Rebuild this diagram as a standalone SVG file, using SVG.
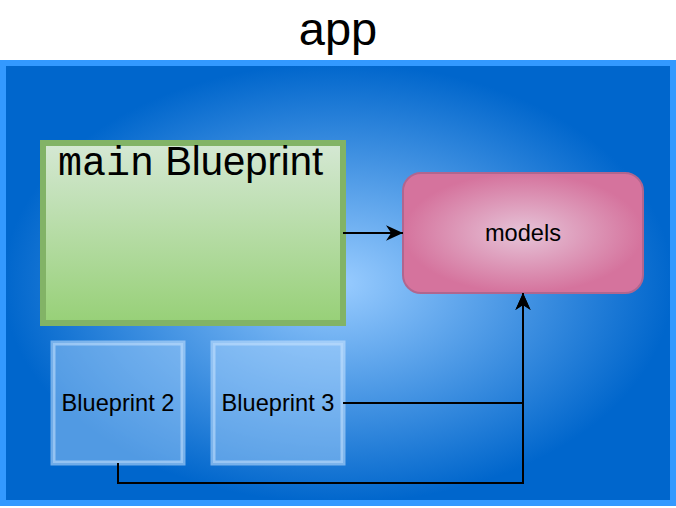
<svg xmlns="http://www.w3.org/2000/svg" width="676" height="508" viewBox="0 0 676 508">
<defs>
<radialGradient id="gApp" cx="0.5" cy="0.5" r="0.5" fx="0.5" fy="0.5">
<stop offset="0" stop-color="#99ccff"/>
<stop offset="1" stop-color="#0066cc"/>
</radialGradient>
<linearGradient id="gMain" x1="0" y1="0" x2="0" y2="1">
<stop offset="0" stop-color="#d5e8d4"/>
<stop offset="1" stop-color="#97d077"/>
</linearGradient>
<radialGradient id="gModels" cx="0.5" cy="0.5" r="0.5">
<stop offset="0" stop-color="#e6c4d8"/>
<stop offset="1" stop-color="#d5739d"/>
</radialGradient>
<marker id="arr" viewBox="0 0 10 10" refX="10" refY="5" markerWidth="17" markerHeight="17" markerUnits="userSpaceOnUse" orient="auto">
<path d="M0,0.5 L10,5 L0,9.5 L3,5 Z" fill="#000"/>
</marker>
<style>
.lbl{font-family:"Liberation Sans",Arial,sans-serif;fill:#000;text-anchor:middle}
.bp{fill:#b3d9ff;fill-opacity:0.45;stroke:#cce6ff;stroke-opacity:0.55;stroke-width:5}
.edge{fill:none;stroke:#000;stroke-width:2;marker-end:url(#arr)}
</style>
</defs>
<rect width="676" height="508" fill="#fff"/>
<g id="app">
<rect x="3" y="63" width="670" height="440" fill="url(#gApp)" stroke="#3399ff" stroke-width="6"/>
<text class="lbl" x="338" y="45" font-size="47">app</text>
</g>
<g id="main">
<rect x="43" y="143" width="300" height="180" fill="url(#gMain)" stroke="#82b366" stroke-width="6"/>
<text class="lbl" x="58" y="175" font-size="40" style="text-anchor:start"><tspan font-family="'Liberation Mono','Courier New',monospace">main</tspan><tspan> Blueprint</tspan></text>
</g>
<g id="models">
<rect x="403" y="173" width="240" height="120" rx="18" ry="18" fill="url(#gModels)" stroke="#b0668f" stroke-width="2"/>
<text class="lbl" x="523" y="241" font-size="23.6">models</text>
</g>
<g id="bp2">
<rect class="bp" x="53" y="343" width="130" height="120"/>
<text class="lbl" x="118" y="411" font-size="23.6">Blueprint 2</text>
</g>
<g id="bp3">
<rect class="bp" x="213" y="343" width="130" height="120"/>
<text class="lbl" x="278" y="411" font-size="23.6">Blueprint 3</text>
</g>
<g id="connectors">
<path class="edge" d="M343,233 L403,233"/>
<path class="edge" d="M343,403 L523,403 L523,293"/>
<path class="edge" d="M118,463 L118,483 L523,483 L523,293"/>
</g>
</svg>
